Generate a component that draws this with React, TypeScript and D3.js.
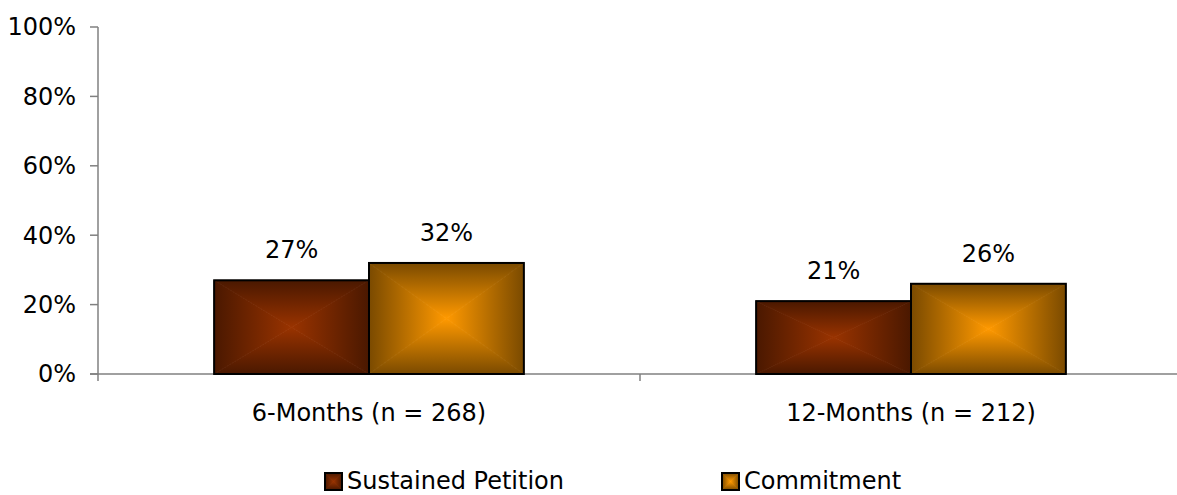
import React from "react";
import * as d3 from "d3";

const categories = ["6-Months (n = 268)", "12-Months (n = 212)"];
const seriesNames = ["Sustained Petition", "Commitment"];
const sustained = [27, 21];
const commitment = [32, 26];
const yTicks = [0, 20, 40, 60, 80, 100];

const W = 1177;
const H = 495;
const M = { left: 98, right: -5, top: 27, bottom: 121 };
const FONT = "'DejaVu Sans', 'Noto Sans', sans-serif";
const FS = 24;

const palette = [
  { edge: "#4a1800", center: "#993300" },
  { edge: "#7a4a00", center: "#ff9900" },
];

function GradBox({ x, y, w, h, idx }: { x: number; y: number; w: number; h: number; idx: number }) {
  const cx = x + w / 2;
  const cy = y + h / 2;
  const id = `g${idx}`;
  const tri = (pts: string, k: string) => (
    <polygon points={pts} fill={`url(#${id}-${k})`} stroke={`url(#${id}-${k})`} strokeWidth={0.8} strokeLinejoin="round" />
  );
  return (
    <g>
      {tri(`${x},${y} ${x},${y + h} ${cx},${cy}`, "l")}
      {tri(`${x + w},${y} ${x + w},${y + h} ${cx},${cy}`, "r")}
      {tri(`${x},${y} ${x + w},${y} ${cx},${cy}`, "t")}
      {tri(`${x},${y + h} ${x + w},${y + h} ${cx},${cy}`, "b")}
      <rect x={x} y={y} width={w} height={h} fill="none" stroke="#000" strokeWidth={2} />
    </g>
  );
}

export default function App() {
  const x0 = d3
    .scaleBand<string>()
    .domain(categories)
    .range([M.left, W - M.right])
    .paddingInner(0)
    .paddingOuter(0);
  const y = d3.scaleLinear().domain([0, 100]).range([H - M.bottom, M.top]);
  const bw = x0.bandwidth();
  const barW = bw / 3.5;
  const series = [sustained, commitment];

  const dirs: Record<string, [number, number, number, number]> = {
    t: [0, 0, 0, 1],
    b: [0, 1, 0, 0],
    l: [0, 0, 1, 0],
    r: [1, 0, 0, 0],
  };

  return (
    <svg width={W} height={H} style={{ position: "absolute", left: 0, top: 0 }} fontFamily={FONT}>
      <defs>
        {palette.map((p, i) =>
          Object.entries(dirs).map(([k, d]) => (
            <linearGradient key={`${i}${k}`} id={`g${i}-${k}`} x1={d[0]} y1={d[1]} x2={d[2]} y2={d[3]}>
              <stop offset="0" stopColor={p.edge} />
              <stop offset="1" stopColor={p.center} />
            </linearGradient>
          ))
        )}
      </defs>
      <rect width={W} height={H} fill="#fff" />
      {/* y axis */}
      <line x1={M.left} x2={M.left} y1={y(100)} y2={y(0) + 7} stroke="#808080" strokeWidth={1.5} />
      {yTicks.map((t) => (
        <g key={t}>
          <line x1={M.left - 8} x2={M.left} y1={y(t)} y2={y(t)} stroke="#808080" strokeWidth={1.5} />
          <text x={M.left - 22} y={y(t)} dy="0.35em" textAnchor="end" fontSize={FS} fill="#000">
            {t}%
          </text>
        </g>
      ))}
      {/* x axis */}
      <line x1={M.left - 8} x2={W} y1={y(0)} y2={y(0)} stroke="#808080" strokeWidth={1.5} />
      {categories.map((c) => (
        <line key={c} x1={x0(c)! + bw} x2={x0(c)! + bw} y1={y(0)} y2={y(0) + 7} stroke="#808080" strokeWidth={1.5} />
      ))}
      {categories.map((c, ci) => (
        <g key={c}>
          {series.map((s, si) => {
            const bx = x0(c)! + bw / 2 - barW + si * barW;
            const by = y(s[ci]);
            return (
              <g key={si}>
                <GradBox x={bx} y={by} w={barW} h={y(0) - by} idx={si} />
                <text x={bx + barW / 2} y={by - 22} textAnchor="middle" fontSize={FS} fill="#000">
                  {s[ci]}%
                </text>
              </g>
            );
          })}
          <text x={x0(c)! + bw / 2} y={y(0) + 47} textAnchor="middle" fontSize={FS} fill="#000">
            {c}
          </text>
        </g>
      ))}
      {/* legend */}
      {seriesNames.map((n, i) => {
        const lx = [325, 722][i];
        return (
          <g key={n}>
            <GradBox x={lx} y={473} w={17} h={17} idx={i} />
            <text x={lx + 22} y={481} dy="0.35em" fontSize={FS} fill="#000">
              {n}
            </text>
          </g>
        );
      })}
    </svg>
  );
}
